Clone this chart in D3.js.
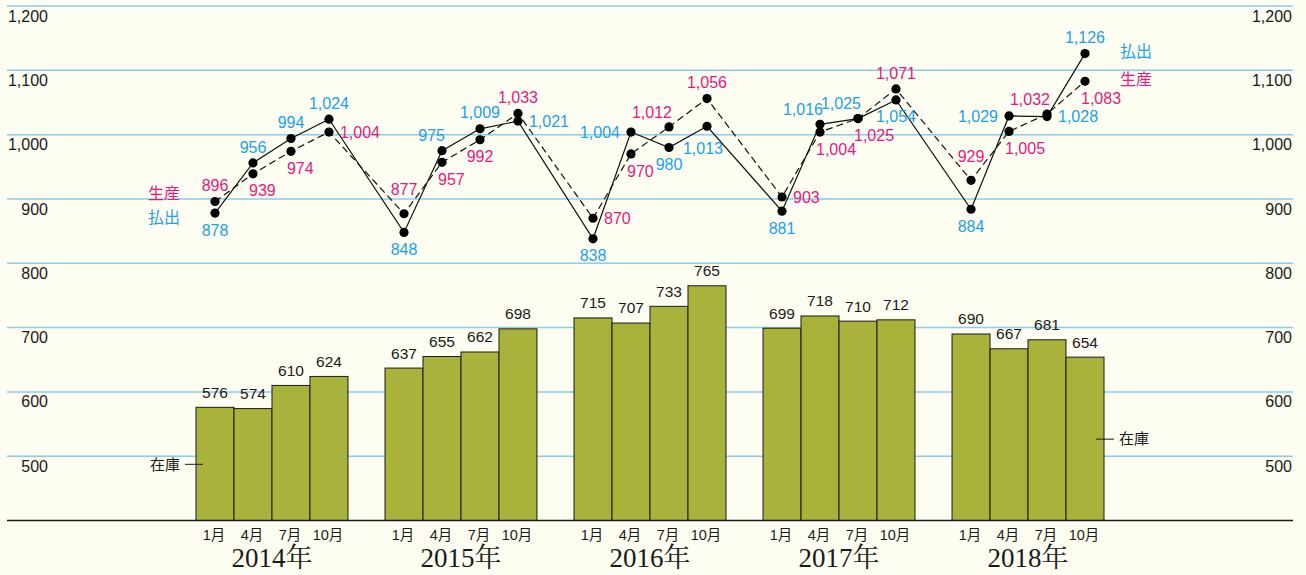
<!DOCTYPE html>
<html>
<head>
<meta charset="utf-8">
<script src="https://cdn.jsdelivr.net/npm/d3@7"></script>
<style>
  body { margin: 0; background: #fdfdf1; }
  svg { display: block; }
  text { font-family: "Liberation Sans", Arial, "Noto Sans CJK JP", sans-serif; }
</style>
</head>
<body>
<div class="chart"></div>
<script>
var years = ["2014", "2015", "2016", "2017", "2018"];
var months = ["1月", "4月", "7月", "10月"];
var yTicks = [500, 600, 700, 800, 900, 1000, 1100, 1200];

// 生産 (dashed), 払出 (solid), 在庫 (bars), year by year
var production = [896, 939, 974, 1004, 877, 957, 992, 1033, 870, 970, 1012, 1056, 903, 1004, 1025, 1071, 929, 1005, 1032, 1083];
var shipments  = [878, 956, 994, 1024, 848, 975, 1009, 1021, 838, 1004, 980, 1013, 881, 1016, 1025, 1054, 884, 1029, 1028, 1126];
var inventory  = [576, 574, 610, 624, 637, 655, 662, 698, 715, 707, 733, 765, 699, 718, 710, 712, 690, 667, 681, 654];

// where each value label sits next to its dot
var prodPos = ["t","br","br","r", "tt","br","b","t", "r","br","tl","t", "r","br","br","t", "tt","br","tl","br"];
var shipPos = ["b","t","t","t", "b","tl","t","r", "b","l","b","bb", "b","tl","tl","b", "b","l","r","t"];

var W = 1306, H = 575;
var blue = "#1ca2e3", pink = "#e5197e";

var svg = d3.select(".chart").append("svg").attr("width", W).attr("height", H);
svg.append("rect").attr("width", W).attr("height", H).attr("fill", "#fdfdf1");

var y = d3.scaleLinear().domain([400, 1200]).range([520.5, 6]);
var xYear = d3.scaleBand().domain(years).range([196, 1104]).paddingInner(0.196);
var xMonth = d3.scaleBand().domain(months).range([0, xYear.bandwidth()]);

var points = [];
years.forEach(function(yr, i) {
  months.forEach(function(m, j) {
    var k = i * 4 + j;
    points.push({year: yr, month: m, x: xYear(yr) + xMonth(m), cx: xYear(yr) + xMonth(m) + xMonth.bandwidth() / 2,
      prod: production[k], ship: shipments[k], inv: inventory[k], pp: prodPos[k], sp: shipPos[k]});
  });
});

// grid
var grid = svg.append("g");
grid.selectAll("line").data(yTicks).enter().append("line")
  .attr("x1", 7).attr("x2", 1293)
  .attr("y1", function(d) { return y(d); }).attr("y2", function(d) { return y(d); })
  .attr("stroke", "#86cdef").attr("stroke-width", 1.5);

var fmt = d3.format(",");
grid.selectAll(".yl").data(yTicks).enter().append("text")
  .attr("x", 48).attr("y", function(d) { return y(d) + 10; })
  .attr("dy", "0.35em").attr("text-anchor", "end")
  .style("font-size", "16px").attr("fill", "#1a1a1a")
  .text(function(d) { return fmt(d); });
grid.selectAll(".yr").data(yTicks).enter().append("text")
  .attr("x", 1292).attr("y", function(d) { return y(d) + 10; })
  .attr("dy", "0.35em").attr("text-anchor", "end")
  .style("font-size", "16px").attr("fill", "#1a1a1a")
  .text(function(d) { return fmt(d); });

// bars
svg.selectAll(".bar").data(points).enter().append("rect")
  .attr("class", "bar")
  .attr("x", function(d) { return d.x; })
  .attr("y", function(d) { return y(d.inv); })
  .attr("width", xMonth.bandwidth())
  .attr("height", function(d) { return y(400) - y(d.inv); })
  .attr("fill", "#a9b23a").attr("stroke", "#1a1a1a").attr("stroke-width", 1);

svg.selectAll(".barlabel").data(points).enter().append("text")
  .attr("x", function(d) { return d.cx; })
  .attr("y", function(d) { return y(d.inv) - 15; })
  .attr("dy", "0.35em").attr("text-anchor", "middle")
  .style("font-size", "15.5px").attr("fill", "#1a1a1a")
  .text(function(d) { return d.inv; });

// baseline
svg.append("line").attr("x1", 7).attr("x2", 1293).attr("y1", y(400)).attr("y2", y(400))
  .attr("stroke", "#1a1a1a").attr("stroke-width", 1.5);

// month + year labels
svg.selectAll(".mon").data(points).enter().append("text")
  .attr("x", function(d) { return d.cx - 1; })
  .attr("y", 535).attr("dy", "0.35em").attr("text-anchor", "middle")
  .style("font-size", "14.5px").attr("fill", "#1a1a1a")
  .text(function(d) { return d.month; });
svg.selectAll(".yr").data(years).enter().append("text")
  .attr("x", function(d) { return xYear(d) + xYear.bandwidth() / 2; })
  .attr("y", 558).attr("dy", "0.35em").attr("text-anchor", "middle")
  .style("font-family", "'Liberation Serif', 'Noto Serif CJK JP', 'Noto Sans CJK JP', serif")
  .style("font-size", "27px").attr("fill", "#1a1a1a")
  .text(function(d) { return d + "年"; });

// lines
var lineProd = d3.line().x(function(d) { return d.cx; }).y(function(d) { return y(d.prod); });
var lineShip = d3.line().x(function(d) { return d.cx; }).y(function(d) { return y(d.ship); });
svg.append("path").datum(points).attr("d", lineProd)
  .attr("fill", "none").attr("stroke", "#111").attr("stroke-width", 1.2).attr("stroke-dasharray", "7,4");
svg.append("path").datum(points).attr("d", lineShip)
  .attr("fill", "none").attr("stroke", "#111").attr("stroke-width", 1.2);

svg.selectAll(".dp").data(points).enter().append("circle")
  .attr("cx", function(d) { return d.cx; }).attr("cy", function(d) { return y(d.prod); })
  .attr("r", 4.6).attr("fill", "#000");
svg.selectAll(".ds").data(points).enter().append("circle")
  .attr("cx", function(d) { return d.cx; }).attr("cy", function(d) { return y(d.ship); })
  .attr("r", 4.6).attr("fill", "#000");

// value labels next to dots
var place = {
  t:  {dx: 0,   dy: -16, a: "middle"},
  tt: {dx: 0,   dy: -24, a: "middle"},
  tl: {dx: 3,   dy: -15, a: "end"},
  b:  {dx: 0,   dy: 17,  a: "middle"},
  bb: {dx: -4,  dy: 22,  a: "middle"},
  br: {dx: -4,  dy: 17,  a: "start"},
  r:  {dx: 11,  dy: 0,   a: "start"},
  l:  {dx: -11, dy: 0,   a: "end"}
};
function valueLabels(key, posKey, color) {
  svg.selectAll(".v" + key).data(points).enter().append("text")
    .attr("x", function(d) { return d.cx + place[d[posKey]].dx; })
    .attr("y", function(d) { return y(d[key]) + place[d[posKey]].dy; })
    .attr("dy", "0.35em")
    .attr("text-anchor", function(d) { return place[d[posKey]].a; })
    .style("font-size", "16px").attr("fill", color)
    .text(function(d) { return fmt(d[key]); });
}
valueLabels("prod", "pp", pink);
valueLabels("ship", "sp", blue);

// series names
var first = points[0], last = points[points.length - 1];
svg.append("text").attr("x", 180).attr("y", y(first.prod) - 8).attr("dy", "0.35em")
  .attr("text-anchor", "end").style("font-size", "16px").attr("fill", pink).text("生産");
svg.append("text").attr("x", 180).attr("y", y(first.ship) + 4).attr("dy", "0.35em")
  .attr("text-anchor", "end").style("font-size", "16px").attr("fill", blue).text("払出");
svg.append("text").attr("x", 1120).attr("y", y(last.ship) - 2).attr("dy", "0.35em")
  .style("font-size", "16px").attr("fill", blue).text("払出");
svg.append("text").attr("x", 1120).attr("y", y(last.prod) - 2).attr("dy", "0.35em")
  .style("font-size", "16px").attr("fill", pink).text("生産");

// 在庫 callouts
var invL = y(first.inv) + 57, invR = y(last.inv) + 82;
svg.append("line").attr("x1", 185).attr("x2", 203).attr("y1", invL).attr("y2", invL)
  .attr("stroke", "#1a1a1a").attr("stroke-width", 1);
svg.append("text").attr("x", 180).attr("y", invL).attr("dy", "0.35em").attr("text-anchor", "end")
  .style("font-size", "15px").attr("fill", "#1a1a1a").text("在庫");
svg.append("line").attr("x1", 1096).attr("x2", 1114).attr("y1", invR).attr("y2", invR)
  .attr("stroke", "#1a1a1a").attr("stroke-width", 1);
svg.append("text").attr("x", 1119).attr("y", invR).attr("dy", "0.35em")
  .style("font-size", "15px").attr("fill", "#1a1a1a").text("在庫");
</script>
</body>
</html>
